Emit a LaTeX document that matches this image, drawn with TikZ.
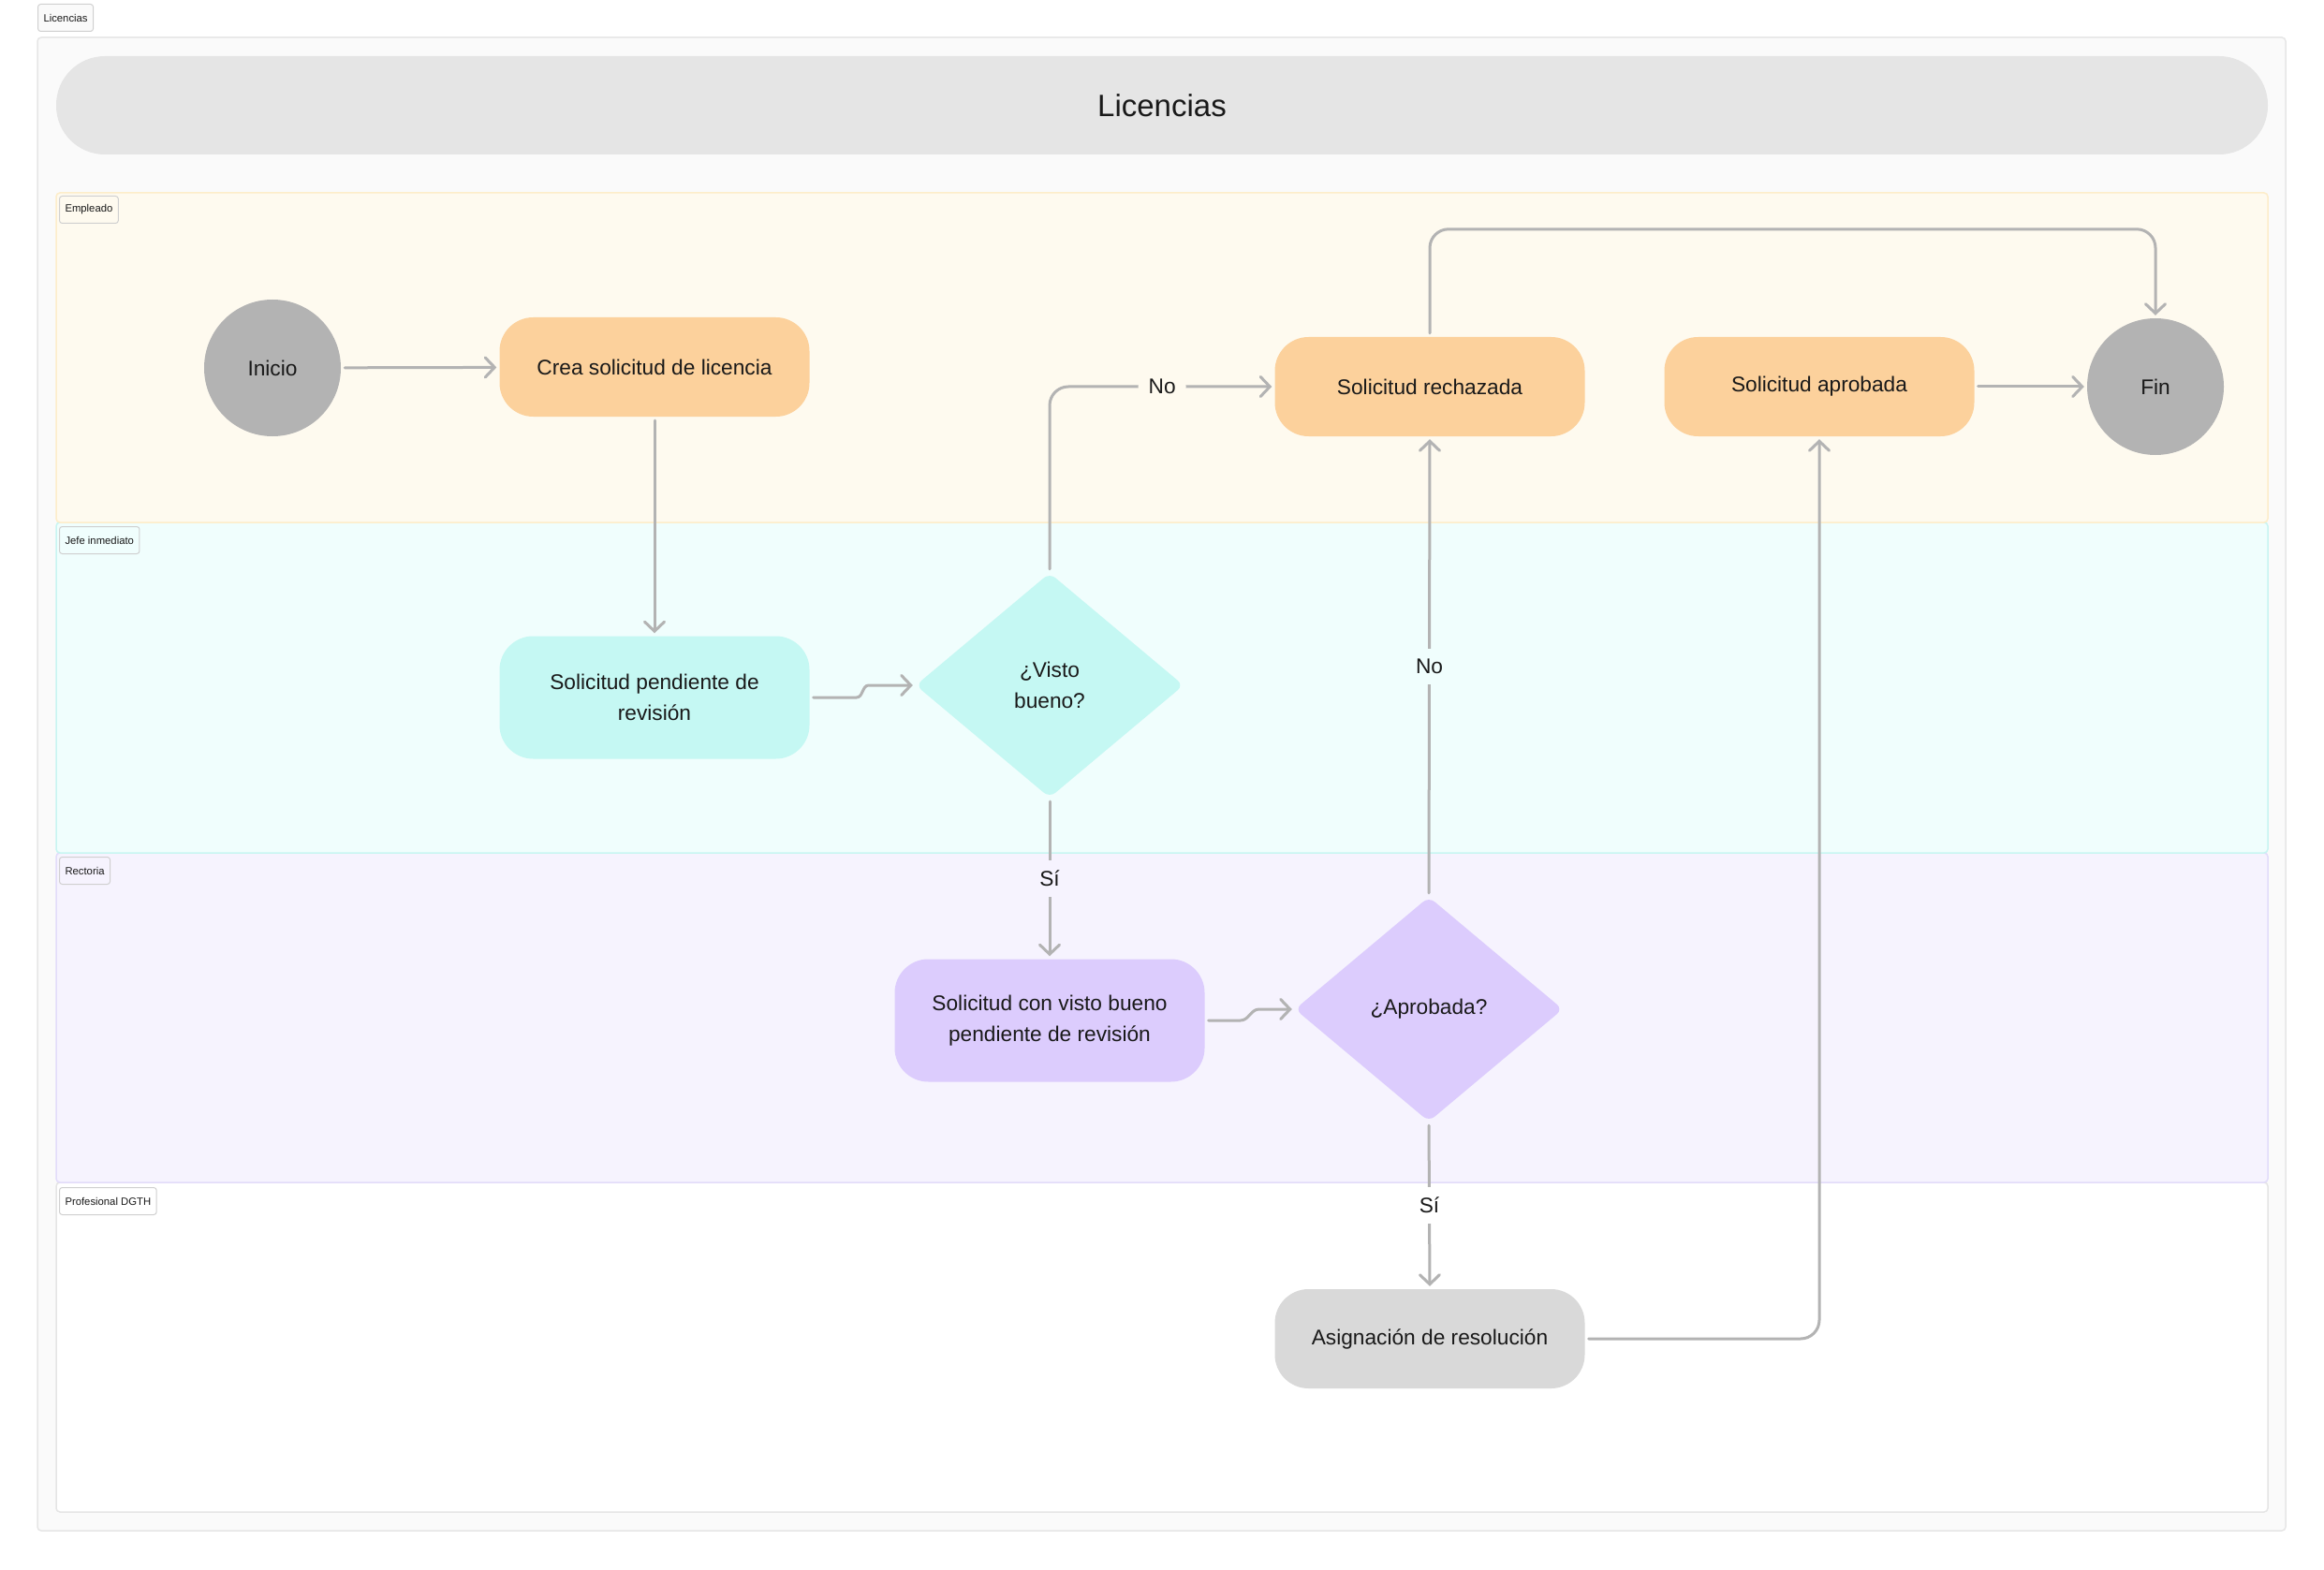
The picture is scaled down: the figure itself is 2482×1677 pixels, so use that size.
\documentclass[tikz,border=0pt]{standalone}
\usepackage{fontspec}
\setmainfont{Liberation Sans}
\usetikzlibrary{shapes.geometric,arrows.meta}

\definecolor{texto}{RGB}{25,25,25}
\definecolor{linea}{RGB}{179,179,179}
\definecolor{marco}{RGB}{250,250,250}
\definecolor{bordemarco}{RGB}{230,230,230}
\definecolor{titulo}{RGB}{229,229,229}
\definecolor{empleado}{RGB}{254,250,239}
\definecolor{bordeempleado}{RGB}{253,237,202}
\definecolor{jefe}{RGB}{240,254,253}
\definecolor{bordejefe}{RGB}{200,245,242}
\definecolor{rectoria}{RGB}{246,243,254}
\definecolor{borderectoria}{RGB}{226,220,250}
\definecolor{bordeprof}{RGB}{229,229,229}
\definecolor{bordetag}{RGB}{208,208,208}
\definecolor{naranja}{RGB}{252,209,156}
\definecolor{cian}{RGB}{197,248,243}
\definecolor{lila}{RGB}{220,204,253}
\definecolor{grisnodo}{RGB}{217,217,217}
\definecolor{gris}{RGB}{179,179,179}

\begin{document}
\begin{tikzpicture}[x=1pt,y=-1pt,
  caja/.style={rounded corners=36pt, minimum width=331pt, minimum height=106pt,
    align=center, text=texto, font=\fontsize{22.7}{33}\selectfont},
  circulo/.style={circle, fill=gris, minimum size=146pt, text=texto,
    font=\fontsize{22.7}{33}\selectfont},
  rombo/.style={diamond, minimum width=286pt, minimum height=240pt, inner sep=0pt,
    rounded corners=8pt, align=center, text=texto, font=\fontsize{22.7}{33}\selectfont},
  flecha/.style={draw=linea, line width=3pt, line cap=round,
    -{Straight Barb[length=10pt,width=21pt,line cap=round]}, shorten <=4pt, shorten >=3pt},
  etiq/.style={text=texto, font=\fontsize{22.7}{26}\selectfont, inner xsep=11pt, inner ysep=11pt},
  tag/.style={draw=bordetag, line width=1pt, rounded corners=3pt, anchor=north west,
    minimum height=29pt, inner xsep=6pt, text=texto, font=\fontsize{11.3}{13}\selectfont}]
  \useasboundingbox (0,0) rectangle (2482,1677);

  \draw[draw=bordemarco, fill=marco, line width=1.5pt, rounded corners=4pt] (40,40) rectangle (2441,1635);
  \fill[titulo, rounded corners=52pt] (60,60) rectangle (2422,165);
  \node[text=texto, font=\fontsize{33}{40}\selectfont] (tituloText) at (1241,113) {Licencias};
  \node[tag, fill=marco] (tagLicencias) at (40,4) {Licencias};

  \draw[draw=bordeprof, fill=white, line width=1.5pt, rounded corners=4pt] (60,1263) rectangle (2422,1615);
  \draw[draw=borderectoria, fill=rectoria, line width=1.5pt, rounded corners=4pt] (60,911) rectangle (2422,1263);
  \draw[draw=bordejefe, fill=jefe, line width=1.5pt, rounded corners=4pt] (60,558) rectangle (2422,911);
  \draw[draw=bordeempleado, fill=empleado, line width=1.5pt, rounded corners=4pt] (60,206) rectangle (2422,558);
  \node[tag, fill=empleado] (tagEmpleado) at (63,209) {Empleado};
  \node[tag, fill=jefe] (tagJefe) at (63,562) {Jefe inmediato};
  \node[tag, fill=rectoria] (tagRectoria) at (63,915) {Rectoria};
  \node[tag, fill=white] (tagProf) at (63,1268) {Profesional DGTH};

  \node[circulo] (inicio) at (291,393) {Inicio};
  \node[caja, fill=naranja] (crea) at (699,392) {Crea solicitud de licencia};
  \node[caja, fill=cian, minimum height=131pt] (pendiente) at (699,745) {Solicitud pendiente de\\revisión};
  \node[rombo, fill=cian] (visto) at (1121,732) {¿Visto\\bueno?};
  \node[caja, fill=naranja] (rechazada) at (1527,413) {Solicitud rechazada};
  \node[caja, fill=naranja] (aprobada) at (1943,413) {Solicitud aprobada};
  \node[circulo] (fin) at (2302,413) {Fin};
  \node[caja, fill=lila, minimum height=131pt] (conVisto) at (1121,1090) {Solicitud con visto bueno\\pendiente de revisión};
  \node[rombo, fill=lila] (aprobadaQ) at (1526,1078) {¿Aprobada?};
  \node[caja, fill=grisnodo] (asignacion) at (1527,1430) {Asignación de resolución};

  \draw[flecha] (inicio) -- (crea);
  \draw[flecha] (crea) -- (pendiente);
  \draw[flecha] (pendiente.east) -- ++(50,0) to[out=0,in=180] ([xshift=-50pt]visto.west) -- (visto.west);
  \draw[flecha, rounded corners=20pt] (visto.north) |- node[pos=0.75, etiq, fill=empleado] {No} (rechazada.west);
  \draw[flecha] (visto.south) -- node[etiq, fill=rectoria] {Sí} (conVisto.north);
  \draw[flecha] (conVisto.east) -- ++(38,0) to[out=0,in=180] ([xshift=-38pt]aprobadaQ.west) -- (aprobadaQ.west);
  \draw[flecha] (aprobadaQ.north) -- node[etiq, fill=jefe] {No} (rechazada.south);
  \draw[flecha] (aprobadaQ.south) -- node[etiq, fill=white] {Sí} (asignacion.north);
  \draw[flecha, rounded corners=20pt] (asignacion.east) -| (aprobada.south);
  \draw[flecha, rounded corners=20pt] (rechazada.north) -- ++(0,-115) -| (fin.north);
  \draw[flecha] (aprobada) -- (fin);

\end{tikzpicture}
\end{document}
